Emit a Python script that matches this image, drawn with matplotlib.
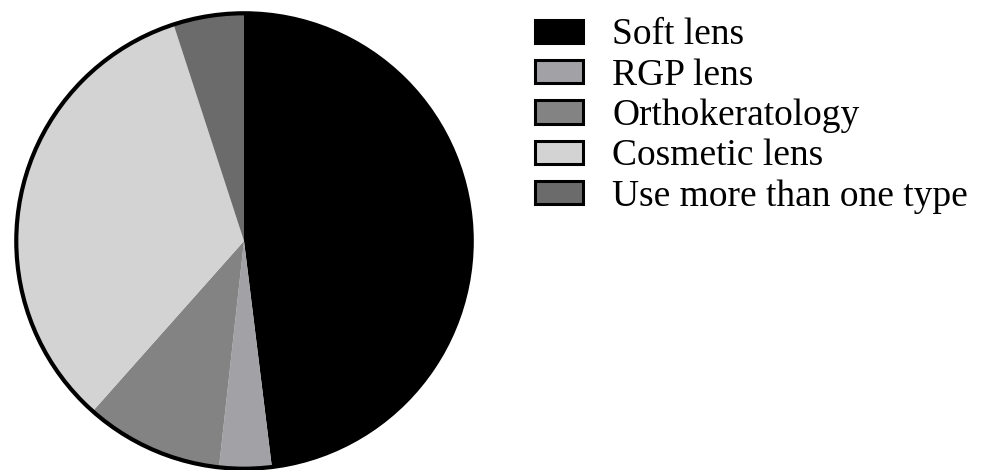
import matplotlib
matplotlib.use("Agg")
import matplotlib.pyplot as plt
from matplotlib.patches import Patch, Circle

# lens type shares (percent)
labels = ["Soft lens", "RGP lens", "Orthokeratology", "Cosmetic lens", "Use more than one type"]
shares = [48.0, 3.7, 9.8, 33.4, 5.0]
colors = ["#000000", "#a2a2a6", "#838383", "#d3d3d3", "#6b6b6b"]

plt.rcParams['font.family'] = ['Liberation Serif', 'DejaVu Serif']

fig = plt.figure(figsize=(9.9, 4.7), dpi=100)

# pie centred near (244, 241) px, radius 230 px
ax = fig.add_axes([14 / 990, -1 / 470, 460 / 990, 460 / 470])
ax.pie(shares, colors=colors, startangle=90, counterclock=False,
       wedgeprops=dict(linewidth=0), radius=1.0)
ax.add_patch(Circle((0, 0), 1.0, fill=False, edgecolor="black", linewidth=3.0))
ax.set_xlim(-1.01, 1.01)
ax.set_ylim(-1.01, 1.01)
ax.set_aspect("equal")
ax.axis("off")

handles = []
for lab, c in zip(labels, colors):
    handles.append(Patch(facecolor=c, edgecolor="black", linewidth=2.2, label=lab))

fig.legend(handles=handles, loc="upper left", bbox_to_anchor=(535 / 990, 1 - 18 / 470),
           frameon=False, fontsize=27, handlelength=1.28, handleheight=0.58,
           handletextpad=0.78, labelspacing=0.155, borderaxespad=0, borderpad=0)

fig.savefig("out.png", dpi=100)
